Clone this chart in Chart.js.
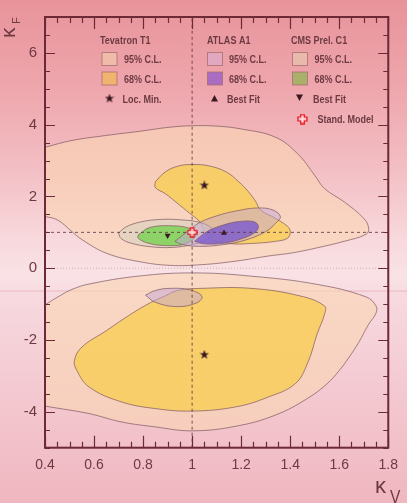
<!DOCTYPE html>
<html>
<head>
<meta charset="utf-8">
<script src="https://cdn.jsdelivr.net/npm/chart.js@4.4.1/dist/chart.umd.min.js"></script>
<style>
html, body { margin: 0; padding: 0; }
body {
  width: 407px; height: 503px; overflow: hidden;
  background: linear-gradient(to bottom, #e8939a 0px, #eea7ad 90px, #f3bfc4 170px, #f8d9dd 240px,
    #f9e2e5 275px, #f8dde2 290px, #ebb7bf 291px, #f7dae0 292px, #f4c9d1 390px, #f0b7c0 503px);
}
canvas { display: block; }
</style>
</head>
<body>
<canvas id="c" width="407" height="503"></canvas>
<script>
// contours, points are [kappaV, kappaF]
const tevUpper95 = [[0.36,3.30],[0.40,3.37],[0.51,3.56],[0.65,3.70],[0.78,3.81],[0.91,3.93],[1.00,3.97],[1.10,3.96],
  [1.20,3.88],[1.34,3.65],[1.43,3.19],[1.50,2.59],[1.54,2.22],[1.62,1.85],[1.70,1.39],[1.72,1.12],[1.71,0.95],
  [1.62,0.75],[1.51,0.57],[1.41,0.43],[1.31,0.34],[1.18,0.20],[1.04,0.10],[0.91,0.08],[0.78,0.19],[0.65,0.42],
  [0.55,0.80],[0.51,1.02],[0.45,1.35],[0.40,1.44],[0.36,1.50]];
const tevLower95 = [[0.36,-1.20],[0.40,-1.02],[0.46,-0.77],[0.51,-0.59],[0.58,-0.44],[0.78,-0.22],[1.00,-0.13],
  [1.24,-0.22],[1.51,-0.45],[1.71,-0.80],[1.75,-1.05],[1.75,-1.25],[1.72,-1.56],[1.68,-2.06],[1.64,-2.48],
  [1.60,-2.85],[1.55,-3.22],[1.47,-3.63],[1.34,-4.09],[1.18,-4.40],[1.00,-4.53],[0.85,-4.42],[0.71,-4.28],
  [0.58,-4.05],[0.40,-3.84],[0.36,-3.78]];
const tevUpper68 = [[0.85,2.41],[0.89,2.68],[0.94,2.84],[1.00,2.89],[1.07,2.85],[1.14,2.68],[1.19,2.41],[1.23,2.13],
  [1.26,1.85],[1.28,1.62],[1.34,1.39],[1.39,1.16],[1.40,1.02],[1.39,0.84],[1.34,0.75],[1.24,0.69],[1.15,0.69],
  [1.07,0.84],[1.03,1.30],[0.99,1.53],[0.94,1.81],[0.89,2.08],[0.85,2.25]];
const tevLower68 = [[0.89,-0.77],[0.94,-0.62],[1.04,-0.56],[1.24,-0.56],[1.44,-0.77],[1.54,-1.05],[1.54,-1.28],
  [1.51,-1.83],[1.47,-2.66],[1.42,-3.22],[1.31,-3.59],[1.18,-3.86],[1.00,-3.98],[0.85,-3.91],[0.71,-3.72],
  [0.58,-3.31],[0.53,-2.85],[0.52,-2.57],[0.55,-2.20],[0.65,-1.74],[0.75,-1.28],[0.83,-0.96]];
const atlas95 = [[0.93,0.75],[0.98,1.02],[1.03,1.27],[1.11,1.48],[1.19,1.61],[1.27,1.68],[1.33,1.62],[1.36,1.44],
  [1.34,1.25],[1.30,1.02],[1.22,0.79],[1.13,0.66],[1.03,0.61],[0.96,0.66]];
const atlasLower95 = [[0.81,-0.75],[0.85,-0.62],[0.91,-0.56],[0.99,-0.60],[1.04,-0.78],[1.02,-0.96],[0.94,-1.07],
  [0.85,-0.95]];
const atlas68 = [[1.01,0.75],[1.06,1.02],[1.13,1.21],[1.19,1.30],[1.25,1.30],[1.27,1.18],[1.26,1.02],[1.21,0.84],
  [1.13,0.70],[1.05,0.68]];
const cms95 = [[0.70,0.98],[0.73,1.15],[0.79,1.29],[0.87,1.36],[0.95,1.35],[1.03,1.28],[1.08,1.12],[1.085,0.98],
  [1.06,0.80],[1.00,0.66],[0.92,0.58],[0.83,0.60],[0.75,0.70],[0.71,0.83]];
const cms68 = [[0.78,0.93],[0.83,1.14],[0.93,1.18],[0.99,1.11],[1.02,0.98],[0.98,0.70],[0.90,0.63],[0.82,0.70],
  [0.78,0.84]];

const tevMin = [[1.05,2.31],[1.05,-2.41]];
const atlasBest = [[1.13,0.98]];
const cmsBest = [[0.90,0.91]];
const standardModel = [[1,1]];

const xTicks = [0.4,0.6,0.8,1,1.2,1.4,1.6,1.8];
const yTicks = [-4,-2,0,2,4,6];

const FONT = "'Liberation Sans', Arial, sans-serif";
const INK = '#6b2a35';
const TXT = '#6e3a42';

const toXY = pts => pts.map(p => ({ x: p[0], y: p[1] }));
const loop = pts => toXY(pts.concat([pts[0]]));

function contour(pts, col, order) {
  return { data: loop(pts), showLine: true, fill: 'shape', backgroundColor: col,
    borderColor: 'rgba(125,85,95,0.7)', borderWidth: 1, tension: 0.4, pointRadius: 0, order: order };
}

// marker images
function starImg(size, col) {
  const c = document.createElement('canvas'); c.width = c.height = size;
  const g = c.getContext('2d');
  g.fillStyle = col; g.beginPath();
  for (let i = 0; i < 10; i++) {
    const r = i % 2 ? size * 0.2 : size * 0.5;
    const a = -Math.PI / 2 + i * Math.PI / 5;
    g.lineTo(size / 2 + r * Math.cos(a), size / 2 + r * Math.sin(a));
  }
  g.closePath(); g.fill();
  return c;
}
function crossImg(size) {
  const c = document.createElement('canvas'); c.width = c.height = size;
  const g = c.getContext('2d');
  const a = size / 3, m = 1;
  g.beginPath();
  g.moveTo(a, m); g.lineTo(2 * a, m); g.lineTo(2 * a, a); g.lineTo(size - m, a); g.lineTo(size - m, 2 * a);
  g.lineTo(2 * a, 2 * a); g.lineTo(2 * a, size - m); g.lineTo(a, size - m); g.lineTo(a, 2 * a);
  g.lineTo(m, 2 * a); g.lineTo(m, a); g.lineTo(a, a); g.closePath();
  g.fillStyle = 'rgba(255,225,225,0.9)'; g.fill();
  g.strokeStyle = '#e8202a'; g.lineWidth = 1.4; g.stroke();
  return c;
}
const STAR = starImg(10, '#3a1820');
const CROSS = crossImg(11);

function marker(pts, style, extra) {
  return Object.assign({ data: toXY(pts), pointStyle: style, pointRadius: 4, backgroundColor: '#3a1820',
    borderColor: '#3a1820', borderWidth: 0, order: -1 }, extra || {});
}

// condensed text, like the narrow helvetica of the original
function narrow(ctx, s, x, y) {
  ctx.save();
  ctx.translate(x, y);
  ctx.scale(0.82, 1);
  ctx.fillText(s, 0, 0);
  ctx.restore();
}

const frame = {
  id: 'frame',
  afterDatasetsDraw(chart) {
    const { ctx, chartArea: a, scales: { x, y } } = chart;
    ctx.save();
    ctx.strokeStyle = INK;
    ctx.lineWidth = 1.2;
    ctx.beginPath();
    for (let i = 0; i <= 28; i++) {
      const v = 0.4 + i * 0.05;
      const px = Math.round(x.getPixelForValue(v)) + 0.5;
      const len = i % 4 === 0 ? 12 : 6;
      ctx.moveTo(px, a.bottom); ctx.lineTo(px, a.bottom - len);
      ctx.moveTo(px, a.top); ctx.lineTo(px, a.top + len);
    }
    for (let i = 0; i <= 24; i++) {
      const v = -5 + i * 0.5;
      const py = Math.round(y.getPixelForValue(v)) + 0.5;
      const len = (v % 2 === 0) ? 10 : 5;
      ctx.moveTo(a.left, py); ctx.lineTo(a.left + len, py);
      ctx.moveTo(a.right, py); ctx.lineTo(a.right - len, py);
    }
    ctx.stroke();
    ctx.lineWidth = 2;
    ctx.strokeRect(a.left, a.top, a.right - a.left, a.bottom - a.top);

    // legend block
    ctx.fillStyle = TXT;
    ctx.textBaseline = 'alphabetic';
    ctx.font = 'bold 11px ' + FONT;
    narrow(ctx, 'Tevatron T1', 100, 44);
    narrow(ctx, 'ATLAS A1', 207, 44);
    narrow(ctx, 'CMS Prel. C1', 291, 44);
    const sw = [[102, '#f1bba9', '#f0b46e'], [207.5, '#e2a8c0', '#a86cc0'], [292.5, '#e9b9ac', '#a9b06a']];
    sw.forEach(s => {
      ctx.lineWidth = 1;
      ctx.strokeStyle = 'rgba(170,110,115,0.8)';
      ctx.fillStyle = s[1]; ctx.fillRect(s[0], 52.5, 15, 13); ctx.strokeRect(s[0], 52.5, 15, 13);
      ctx.fillStyle = s[2]; ctx.fillRect(s[0], 72, 15, 13); ctx.strokeRect(s[0], 72, 15, 13);
    });
    ctx.fillStyle = TXT;
    [124, 229, 314.5].forEach(tx => {
      narrow(ctx, '95% C.L.', tx, 63);
      narrow(ctx, '68% C.L.', tx, 83);
    });
    ctx.drawImage(STAR, 109.5 - 5, 98.5 - 5);
    narrow(ctx, 'Loc. Min.', 122.5, 103);
    ctx.fillStyle = '#3a1820';
    ctx.beginPath(); ctx.moveTo(214.5, 95); ctx.lineTo(218, 101.5); ctx.lineTo(211, 101.5); ctx.closePath(); ctx.fill();
    ctx.beginPath(); ctx.moveTo(296, 94.5); ctx.lineTo(303, 94.5); ctx.lineTo(299.5, 101); ctx.closePath(); ctx.fill();
    ctx.fillStyle = TXT;
    narrow(ctx, 'Best Fit', 227, 103);
    narrow(ctx, 'Best Fit', 313, 103);
    ctx.drawImage(CROSS, 302.5 - 5.5, 119 - 5.5);
    narrow(ctx, 'Stand. Model', 317.5, 123);

    // axis titles
    ctx.fillStyle = TXT;
    ctx.save();
    ctx.translate(15, 38);
    ctx.rotate(-Math.PI / 2);
    ctx.font = '21px ' + FONT;
    ctx.fillText('κ', 0, 0);
    ctx.font = '11px ' + FONT;
    ctx.fillText('F', 14, 5);
    ctx.restore();
    ctx.font = '22px ' + FONT;
    ctx.fillText('κ', 375, 493);
    ctx.font = '19px ' + FONT;
    narrow(ctx, 'V', 390, 503);
    ctx.restore();
  }
};

new Chart(document.getElementById('c'), {
  type: 'scatter',
  data: {
    datasets: [
      contour(tevUpper95, 'rgba(250,214,178,0.6)', 10),
      contour(tevLower95, 'rgba(250,214,178,0.6)', 10),
      contour(tevUpper68, 'rgba(248,205,85,0.8)', 9),
      contour(tevLower68, 'rgba(248,205,85,0.8)', 9),
      contour(cms95, 'rgba(215,210,190,0.6)', 8),
      contour(cms68, 'rgba(135,210,95,0.92)', 7),
      contour(atlasLower95, 'rgba(195,165,215,0.5)', 6),
      contour(atlas95, 'rgba(195,165,215,0.5)', 6),
      contour(atlas68, 'rgba(128,95,205,0.85)', 5),
      { data: [{ x: 1, y: -5 }, { x: 1, y: 7 }], showLine: true, borderColor: 'rgba(95,55,65,0.85)',
        borderWidth: 1, borderDash: [3, 3], pointRadius: 0, order: 1 },
      { data: [{ x: 0.4, y: 1 }, { x: 1.8, y: 1 }], showLine: true, borderColor: 'rgba(95,55,65,0.85)',
        borderWidth: 1, borderDash: [3, 3], pointRadius: 0, order: 1 },
      { data: [{ x: 0.4, y: 0 }, { x: 1.8, y: 0 }], showLine: true, borderColor: 'rgba(190,150,160,0.7)',
        borderWidth: 1, borderDash: [1, 2], pointRadius: 0, order: 1 },
      marker(tevMin, STAR),
      marker(atlasBest, 'triangle', { pointRadius: 3.5 }),
      marker(cmsBest, 'triangle', { pointRadius: 3.5, rotation: 180 }),
      marker(standardModel, CROSS)
    ]
  },
  options: {
    responsive: false,
    animation: false,
    layout: { padding: { top: 14, right: 10.5, left: 0, bottom: 0 } },
    plugins: { legend: { display: false }, tooltip: { enabled: false } },
    scales: {
      x: {
        type: 'linear', min: 0.4, max: 1.8,
        afterBuildTicks: s => { s.ticks = xTicks.map(v => ({ value: v })); },
        afterFit: s => { s.height = 55.3; },
        grid: { display: false, drawTicks: false }, border: { display: false },
        ticks: { font: { family: FONT, size: 14 }, color: TXT, padding: 9, maxRotation: 0, autoSkip: false,
          callback: v => String(v) }
      },
      y: {
        type: 'linear', min: -5, max: 7,
        afterBuildTicks: s => { s.ticks = yTicks.map(v => ({ value: v })); },
        afterFit: s => { s.width = 45; },
        grid: { display: false, drawTicks: false }, border: { display: false },
        ticks: { font: { family: FONT, size: 15 }, color: TXT, padding: 8, autoSkip: false,
          callback: v => String(v) }
      }
    }
  },
  plugins: [frame]
});
</script>
</body>
</html>
